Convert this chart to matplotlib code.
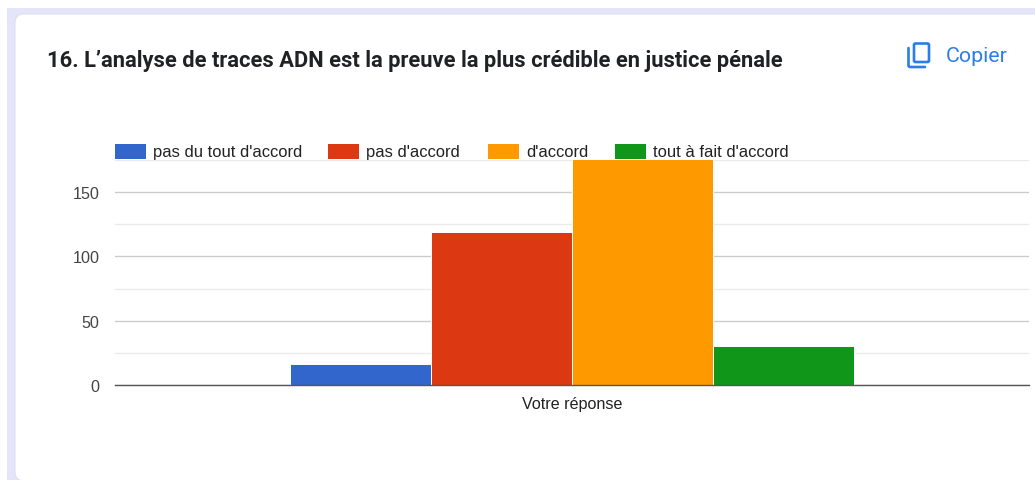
import matplotlib
matplotlib.use("Agg")
import matplotlib.pyplot as plt
from matplotlib.patches import FancyBboxPatch, Rectangle

# values
categories = ["Votre réponse"]
series_names = ["pas du tout d'accord", "pas d'accord", "d'accord", "tout à fait d'accord"]
series_values = [16, 119, 176, 30]
series_colors = ["#3366cc", "#dc3912", "#ff9900", "#109618"]
major_ticks = [0, 50, 100, 150]
minor_ticks = [25, 75, 125, 175]
title = "16. L’analyse de traces ADN est la preuve la plus crédible en justice pénale"

W, H = 1035, 481
fig = plt.figure(figsize=(W / 100, H / 100), dpi=100, facecolor="white")

# page background and card, in pixel coordinates
bg = fig.add_axes([0, 0, 1, 1])
bg.set_xlim(0, W)
bg.set_ylim(H, 0)
bg.axis("off")
bg.add_patch(Rectangle((7, 9), W, H, fc="#e4e4fb", ec="none"))
bg.add_patch(FancyBboxPatch((15, 15), W + 40, 467, boxstyle="round,pad=0,rounding_size=9",
                            fc="white", ec="#e0e0ee", lw=0.8))
bg.text(47, 60.5, title, family="Roboto", weight="bold", fontsize=15.73, color="#202124",
        va="center", ha="left")

# copy icon
blue = "#2b7de9"
bg.add_patch(FancyBboxPatch((914, 44.5), 15, 18.5, boxstyle="round,pad=0,rounding_size=1.5",
                            fc="none", ec=blue, lw=1.9))
bg.plot([908.5, 908.5, 909.5, 925], [49, 67, 68, 68], color=blue, lw=1.9, solid_capstyle="round")
bg.text(946, 56.5, "Copier", family="Roboto", fontsize=15.4, color=blue, va="center", ha="left")

# chart
px0, px1, py0, py1 = 115, 1029, 386, 160.5
ax = fig.add_axes([px0 / W, 1 - py0 / H, (px1 - px0) / W, (py0 - py1) / H])
ax.patch.set_alpha(0)

half = (px1 - px0) / 2 / 141.0
for i, (name, val, col) in enumerate(zip(series_names, series_values, series_colors)):
    ax.bar(i - 1.5, val, width=1.0, color=col, edgecolor="white", linewidth=0.7, label=name,
           zorder=3, clip_on=False)
ax.set_xlim(-half, half)
ax.set_ylim(0, 175.3)

ax.set_yticks(major_ticks)
ax.set_yticks(minor_ticks, minor=True)
ax.set_xticks([0])
ax.set_xticklabels(categories)
ax.grid(axis="y", which="major", color="#cccccc", lw=1, zorder=0)
ax.grid(axis="y", which="minor", color="#ebebeb", lw=1, zorder=0)
ax.tick_params(axis="both", which="both", length=0)
ax.tick_params(axis="y", labelsize=11.6, labelcolor="#444444", pad=11, labelfontfamily="Liberation Sans")
ax.tick_params(axis="x", labelsize=11.6, labelcolor="#222222", pad=8, labelfontfamily="Liberation Sans")
for s in ["top", "right", "left"]:
    ax.spines[s].set_visible(False)
ax.spines["bottom"].set_color("#555555")
ax.spines["bottom"].set_linewidth(1)
ax.spines["bottom"].set_zorder(4)

# legend drawn by hand, matplotlib's own shifts the entries without descenders
legend_x = [115, 328, 488, 615]
top = fig.add_axes([0, 0, 1, 1])
top.set_xlim(0, W)
top.set_ylim(H, 0)
top.axis("off")
for x, name, col in zip(legend_x, series_names, series_colors):
    top.add_patch(Rectangle((x, 145), 31, 15, fc=col, ec="none"))
    top.text(x + 38, 157.3, name, family="Liberation Sans", fontsize=11.85, color="#222222",
             va="baseline", ha="left")

fig.savefig("out.png", dpi=100, facecolor="white")
